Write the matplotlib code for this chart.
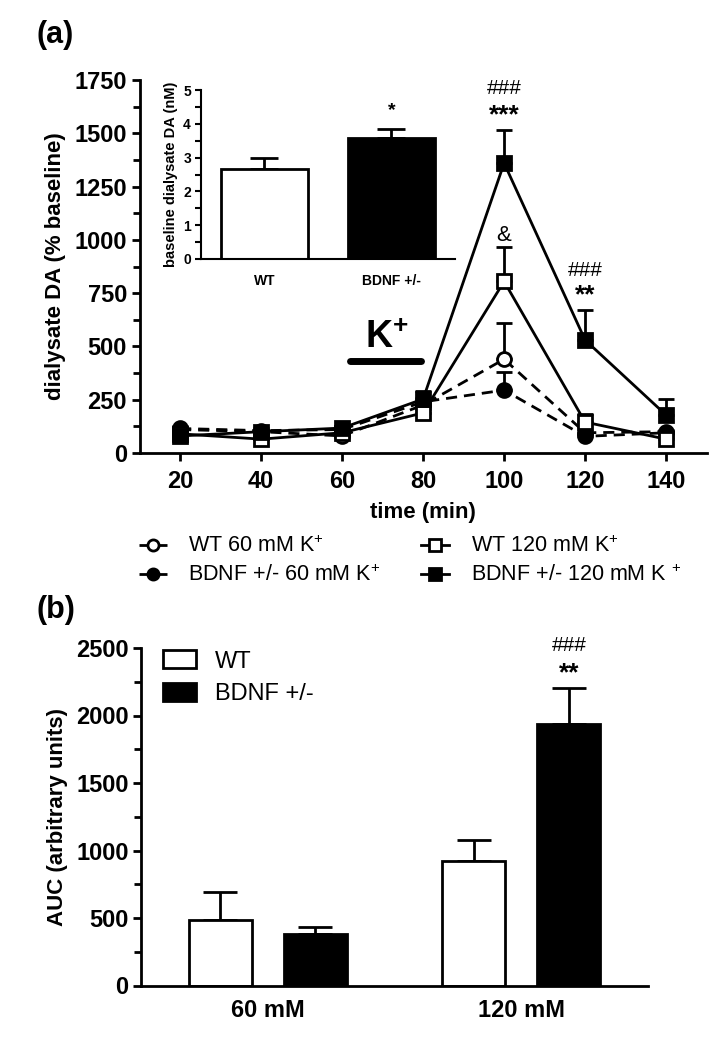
import matplotlib
matplotlib.use("Agg")
import matplotlib.pyplot as plt
from matplotlib.lines import Line2D
from matplotlib.ticker import MultipleLocator
import numpy as np

plt.rcParams["font.family"] = ["Liberation Sans", "DejaVu Sans"]
plt.rcParams["mathtext.fontset"] = "custom"
plt.rcParams["mathtext.rm"] = "Liberation Sans"
plt.rcParams["mathtext.it"] = "Liberation Sans:italic"
plt.rcParams["mathtext.bf"] = "Liberation Sans:bold"

# ---- panel (a) time course ----
time_min = [20, 40, 60, 80, 100, 120, 140]
wt_60 = [110, 100, 80, 225, 440, 95, 100]
wt_60_err = [12, 10, 10, 20, 170, 10, 10]
bdnf_60 = [115, 105, 110, 240, 295, 78, 95]
bdnf_60_err = [10, 10, 10, 20, 85, 10, 10]
wt_120 = [90, 65, 95, 188, 805, 145, 65]
wt_120_err = [10, 10, 10, 20, 160, 38, 10]
bdnf_120 = [80, 100, 117, 253, 1360, 530, 178]
bdnf_120_err = [10, 10, 10, 40, 155, 140, 75]

# inset: baseline dialysate DA (nM)
inset_groups = ["WT", "BDNF +/-"]
inset_vals = [2.66, 3.57]
inset_err = [0.33, 0.27]

# ---- panel (b) AUC ----
conc_labels = ["60 mM", "120 mM"]
auc_wt = [488, 925]
auc_wt_err = [207, 155]
auc_bdnf = [385, 1938]
auc_bdnf_err = [51, 266]

W, H = 724, 1049
fig = plt.figure(figsize=(W / 100, H / 100), dpi=100)


def box(l, t, r, b):
    return [l / W, 1 - b / H, (r - l) / W, (b - t) / H]


def style_axis(ax, size):
    for s in ["top", "right"]:
        ax.spines[s].set_visible(False)
    for s in ["left", "bottom"]:
        ax.spines[s].set_linewidth(2)
    ax.tick_params(which="major", width=2, length=6, labelsize=size, pad=3)
    ax.tick_params(which="minor", width=2, length=5)
    for lab in ax.get_xticklabels() + ax.get_yticklabels():
        lab.set_fontweight("bold")


ax = fig.add_axes(box(139.6, 80, 706.6, 453))
dash = (0, (4, 2.5))
series = [
    (wt_60, wt_60_err, "o", "white", dash, "WT 60 mM K$^{+}$"),
    (bdnf_60, bdnf_60_err, "o", "black", dash, "BDNF +/- 60 mM K$^{+}$"),
    (wt_120, wt_120_err, "s", "white", "-", "WT 120 mM K$^{+}$"),
    (bdnf_120, bdnf_120_err, "s", "black", "-", "BDNF +/- 120 mM K $^{+}$"),
]
handles = []
for vals, err, mk, fc, ls, lab in series:
    ax.errorbar(time_min, vals, yerr=[np.zeros(len(vals)), err], fmt="none",
                ecolor="black", elinewidth=2, capsize=6, capthick=2, zorder=2)
for vals, err, mk, fc, ls, lab in series:
    ax.plot(time_min, vals, color="black", lw=2, ls=ls, marker=mk, ms=10,
            mfc=fc, mec="black", mew=2, zorder=3)
    handles.append(Line2D([0], [0], color="black", lw=2, ls=ls, marker=mk, ms=8,
                          mfc=fc, mec="black", mew=2, label=lab))

ax.set_xlim(10, 150)
ax.set_ylim(0, 1750)
ax.set_xticks(time_min)
ax.set_yticks(range(0, 1751, 250))
ax.yaxis.set_minor_locator(MultipleLocator(125))
style_axis(ax, 17)
ax.tick_params(axis="x", pad=6)
ax.set_xlabel("time (min)", fontsize=16, fontweight="bold", labelpad=7)
ax.set_ylabel("dialysate DA (% baseline)", fontsize=16, fontweight="bold", labelpad=6)

ax.plot([62, 79.5], [431, 431], color="black", lw=5, solid_capstyle="round")
ax.text(71, 540, r"K$^{\mathbf{+}}$", fontsize=27, fontweight="bold", ha="center", va="center")

ax.text(100, 1712, "###", fontsize=15, ha="center", va="center")
ax.text(100, 1585, "***", fontsize=19, fontweight="bold", ha="center", va="center")
ax.text(100, 1022, "&", fontsize=16, ha="center", va="center")
ax.text(120, 854, "###", fontsize=15, ha="center", va="center")
ax.text(120, 741, "**", fontsize=19, fontweight="bold", ha="center", va="center")

fig.text(37 / W, 1 - 35 / H, "(a)", fontsize=22, fontweight="bold", va="center")

fig.legend(handles=handles, ncol=2, loc="upper left", bbox_to_anchor=(130 / W, 1 - 527 / H),
           frameon=False, fontsize=15.5, handlelength=1.3, columnspacing=1.9,
           labelspacing=0.35, handletextpad=1.0, borderaxespad=0)

# inset
axi = fig.add_axes(box(200.7, 90, 455, 259))
xi = np.arange(len(inset_groups))
axi.bar(xi, inset_vals, width=0.68, color=["white", "black"], edgecolor="black", lw=2, zorder=2)
axi.errorbar(xi, inset_vals, yerr=[np.zeros(2), inset_err], fmt="none", ecolor="black",
             elinewidth=2, capsize=10, capthick=2, zorder=1)
axi.set_xlim(-0.5, 1.5)
axi.set_ylim(0, 5)
axi.set_xticks(xi)
axi.set_xticklabels(inset_groups)
axi.yaxis.set_minor_locator(MultipleLocator(0.5))
style_axis(axi, 10)
axi.spines["left"].set_linewidth(1.5)
axi.spines["bottom"].set_linewidth(1.5)
axi.tick_params(which="both", width=1.5, length=4)
axi.tick_params(axis="x", length=0, pad=11)
axi.set_ylabel("baseline dialysate DA (nM)", fontsize=10.5, fontweight="bold", labelpad=4)
axi.text(1, 4.4, "*", fontsize=14, fontweight="bold", ha="center", va="center")

# ---- panel (b) ----
axb = fig.add_axes(box(141, 648, 648, 985.5))
xb = np.arange(len(conc_labels))
off, bw = 0.188, 0.248
axb.bar(xb - off, auc_wt, width=bw, color="white", edgecolor="black", lw=2, zorder=2, label="WT")
axb.bar(xb + off, auc_bdnf, width=bw, color="black", edgecolor="black", lw=2, zorder=2, label="BDNF +/-")
axb.errorbar(xb - off, auc_wt, yerr=[np.zeros(2), auc_wt_err], fmt="none", ecolor="black",
             elinewidth=2, capsize=12, capthick=2, zorder=1)
axb.errorbar(xb + off, auc_bdnf, yerr=[np.zeros(2), auc_bdnf_err], fmt="none", ecolor="black",
             elinewidth=2, capsize=12, capthick=2, zorder=1)
axb.set_xlim(-0.5, 1.5)
axb.set_ylim(0, 2500)
axb.set_xticks(xb)
axb.set_xticklabels(conc_labels)
axb.set_yticks(range(0, 2501, 500))
axb.yaxis.set_minor_locator(MultipleLocator(250))
style_axis(axb, 17)
axb.tick_params(axis="x", length=0, pad=10)
axb.set_ylabel("AUC (arbitrary units)", fontsize=16, fontweight="bold", labelpad=6)
axb.text(1 + off, 2522, "###", fontsize=15, ha="center", va="center")
axb.text(1 + off, 2315, "**", fontsize=19, fontweight="bold", ha="center", va="center")
axb.legend(loc="upper left", bbox_to_anchor=(0.002, 1.056), frameon=False, fontsize=17,
           handlelength=1.4, handleheight=0.8, labelspacing=0.45, handletextpad=0.8)

fig.text(37 / W, 1 - 610 / H, "(b)", fontsize=22, fontweight="bold", va="center")

fig.savefig("out.png", dpi=100)
